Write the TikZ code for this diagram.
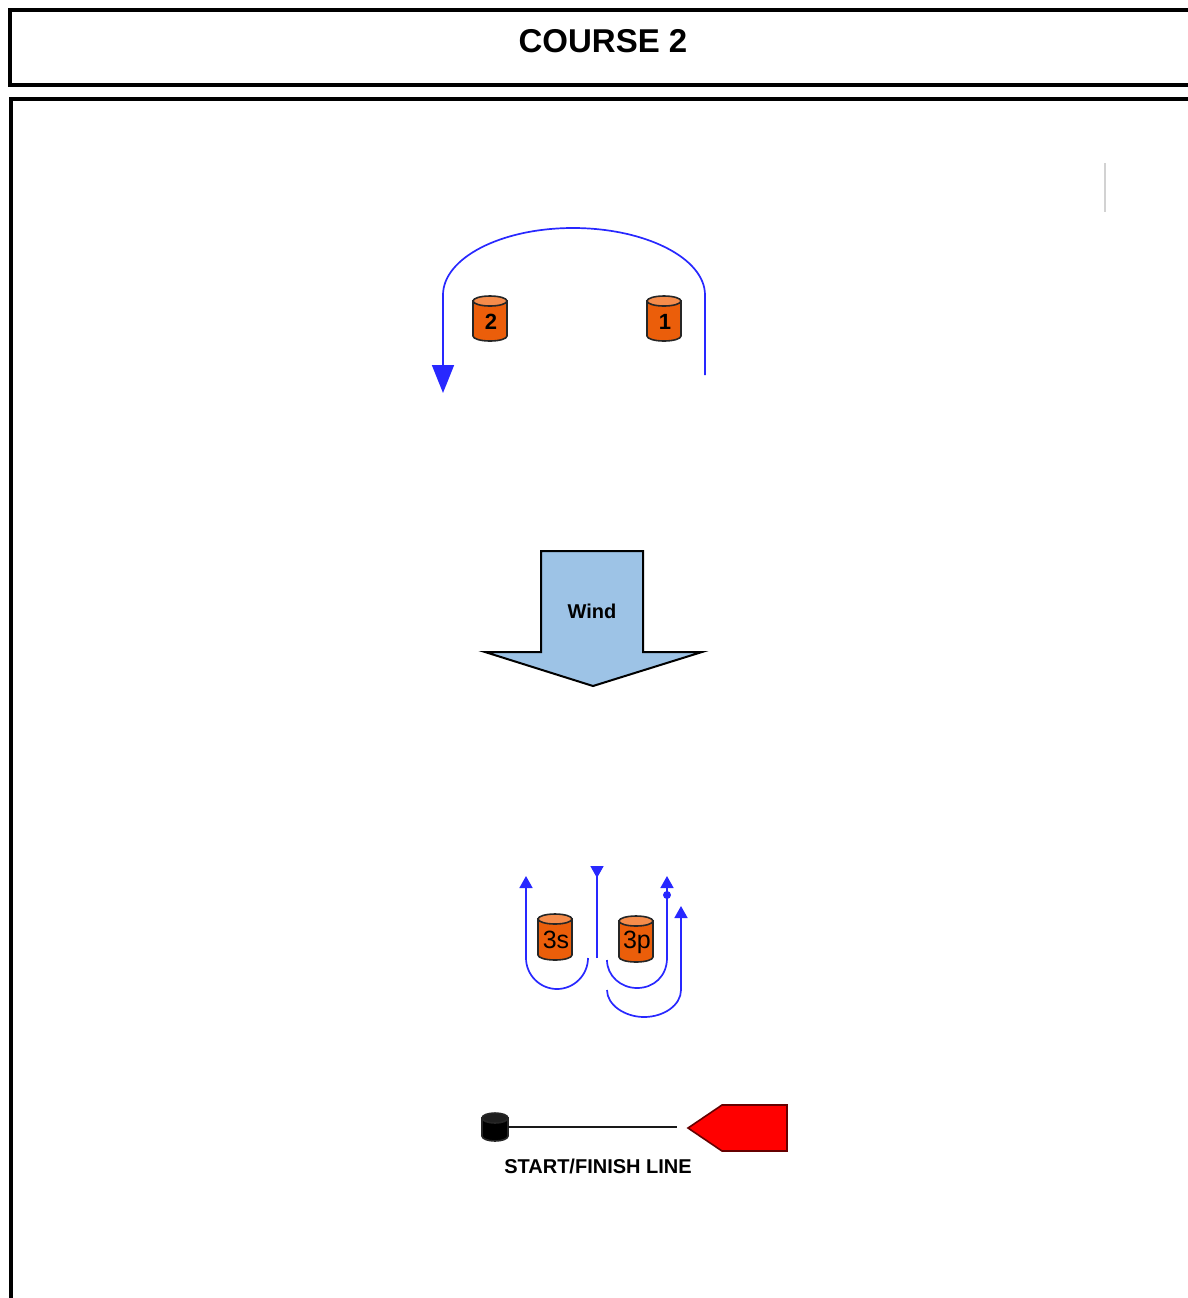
\documentclass[tikz,border=0pt]{standalone}
\usepackage{fontspec}
\setmainfont{Liberation Sans}
\usetikzlibrary{positioning,arrows.meta}
\definecolor{buoyorange}{RGB}{235,94,10}
\definecolor{buoytop}{RGB}{245,140,75}
\definecolor{courseblue}{RGB}{40,40,255}
\definecolor{windblue}{RGB}{157,195,230}
\definecolor{flagred}{RGB}{255,0,0}

\begin{document}
\begin{tikzpicture}[x=0.5pt,y=-0.5pt,
    buoyline/.style={draw=black!85, line width=0.8pt},
    buoytext/.style={inner sep=0pt, font=\fontsize{12.5}{12.5}\selectfont},
    course/.style={draw=courseblue, line width=0.85pt},
    smallhead/.style={-{Triangle[length=6pt,width=6.5pt]}},
    frame/.style={draw, line width=2pt}]
    \useasboundingbox (0,0) rectangle (1188,1298);
    % frames
    \draw[frame] (10,10) rectangle (1210,85);
    \draw[frame] (11,99) rectangle (1210,1320);
    \node (title) at (603,41) {\fontsize{16.5}{18}\selectfont\bfseries COURSE 2};
    \draw[gray!35, line width=1pt] (1105,163) -- (1105,212);
    % buoys
    \foreach \x/\y/\a/\h/\body/\top in {490/318.5/17/22.5/buoyorange/buoytop,
        664/318.5/17/22.5/buoyorange/buoytop, 555/937/17/23/buoyorange/buoytop,
        636/939/17/23/buoyorange/buoytop, 495/1127/13/14/black/black!88}{
      \draw[buoyline, fill=\body] ({\x-\a},{\y-\h+5}) -- ({\x-\a},{\y+\h-5})
        .. controls ({\x-\a},{\y+\h-2.2}) and ({\x-0.55*\a},{\y+\h}) .. (\x,{\y+\h})
        .. controls ({\x+0.55*\a},{\y+\h}) and ({\x+\a},{\y+\h-2.2}) .. ({\x+\a},{\y+\h-5})
        -- ({\x+\a},{\y-\h+5}) -- cycle;
      \draw[buoyline, fill=\top] (\x,{\y-\h+5}) ellipse [x radius=\a, y radius=5];
    }
    \node[buoytext, font=\bfseries\fontsize{11}{11}\selectfont] (t2) at (491,322) {2};
    \node[buoytext, font=\bfseries\fontsize{11}{11}\selectfont] (t1) at (665,322) {1};
    \node[buoytext] (t3s) at (556,940) {3s};
    \node[buoytext] (t3p) at (637,942) {3p};
    % windward leg
    \coordinate (up1) at (705,375);
    \coordinate (up2) at (443,393);
    \draw[course, -{Triangle[length=14pt,width=11pt]}] (up1) -- (705,295)
      .. controls (705,258) and (645,228) .. (573,228)
      .. controls (501,228) and (443,258) .. (443,295) -- (up2);
    % wind
    \draw[fill=windblue, line width=1pt] (541,551) -- (643,551) -- (643,652) -- (702,652)
      -- (593,686) -- (485,652) -- (541,652) -- cycle;
    \node (wind) at (592,611) {\fontsize{10}{12}\selectfont\bfseries Wind};
    % gate
    \coordinate (s1) at (588,958);
    \coordinate (s2) at (607,960);
    \coordinate (s3) at (607,990);
    \coordinate (mid) at (597,958);
    \draw[course, smallhead] (s1) .. controls (588,975) and (574,989) .. (557,989)
      .. controls (540,989) and (526,975) .. (526,958) -- (526,876);
    \draw[course, -{Triangle[length=6pt,width=6.5pt,reversed]}] (mid) -- (597,866);
    \draw[course, smallhead] (s2) .. controls (607,976) and (621,988) .. (637,988)
      .. controls (654,988) and (667,976) .. (667,958) -- (667,876);
    \fill[courseblue] (667,895) circle (2pt);
    \draw[course, smallhead] (s3) .. controls (607,1005) and (625,1017) .. (644,1017)
      .. controls (664,1017) and (681,1005) .. (681,990) -- (681,906);
    % start/finish line
    \coordinate (pin) at (508,1127);
    \coordinate (flagtip) at (677,1127);
    \draw[gray!20!black, line width=1pt] (pin) -- (flagtip);
    \draw[fill=flagred, draw=red!40!black, line width=0.8pt] (688,1128) -- (722,1105)
      -- (787,1105) -- (787,1151) -- (722,1151) -- cycle;
    \node (sfl) at (598,1166) {\fontsize{10}{12}\selectfont\bfseries START/FINISH LINE};
\end{tikzpicture}
\end{document}
